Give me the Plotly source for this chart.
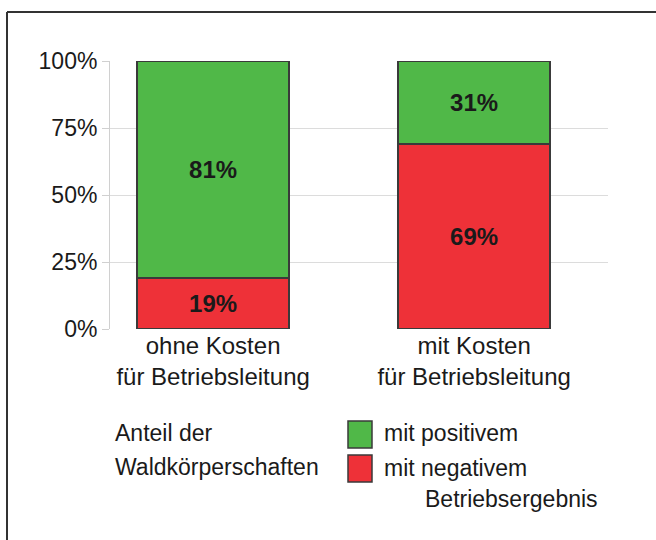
import plotly.graph_objects as go

categories = ["ohne Kosten<br>für Betriebsleitung", "mit Kosten<br>für Betriebsleitung"]
negative = [19, 69]
positive = [81, 31]
series_names = ["mit negativem Betriebsergebnis", "mit positivem Betriebsergebnis"]
tick_vals = [0, 25, 50, 75, 100]
tick_text = ["0%", "25%", "50%", "75%", "100%"]

GREEN = "#50b848"
RED = "#ee3138"
EDGE = "#3a3a3a"
FONT = "Liberation Sans, Arial, Helvetica, sans-serif"
TXT = "#1a1a1a"

W, H = 656, 540
L, R, T, B = 110, 608, 61, 329


def px(x):
    return (x - L) / (R - L)


def py(y):
    return (B - y) / (B - T)


fig = go.Figure()
fig.add_trace(go.Bar(
    x=categories, y=negative, name=series_names[0],
    marker=dict(color=RED, line=dict(color=EDGE, width=1.5)),
    width=0.582, text=[f"{v}%" for v in negative], textposition="inside",
    insidetextanchor="middle", textangle=0,
    textfont=dict(family=FONT, size=24, color=TXT, weight="bold"),
))
fig.add_trace(go.Bar(
    x=categories, y=positive, name=series_names[1],
    marker=dict(color=GREEN, line=dict(color=EDGE, width=1.5)),
    width=0.582, text=[f"{v}%" for v in positive], textposition="inside",
    insidetextanchor="middle", textangle=0,
    textfont=dict(family=FONT, size=24, color=TXT, weight="bold"),
))

fig.update_layout(
    barmode="stack",
    width=W, height=H,
    margin=dict(l=L, r=W - R, t=T, b=H - B),
    paper_bgcolor="white", plot_bgcolor="white",
    showlegend=False,
    uniformtext=dict(mode=False),
    font=dict(family=FONT, color=TXT),
    xaxis=dict(
        type="category", range=[-0.395, 1.513],
        showgrid=False, showline=False, zeroline=False, ticks="",
        tickfont=dict(family=FONT, size=24, color=TXT),
    ),
    yaxis=dict(
        range=[0, 100], tickvals=tick_vals, ticktext=tick_text,
        showgrid=True, gridcolor="#dcdcdc", gridwidth=1,
        showline=True, linecolor="#d0d0d0", linewidth=1,
        ticks="outside", ticklen=7, tickcolor="#d0d0d0",
        zeroline=False,
        tickfont=dict(family=FONT, size=23, color=TXT),
    ),
)

shapes = [
    dict(type="line", xref="paper", yref="paper", x0=px(7), y0=py(12), x1=px(7), y1=py(550),
         line=dict(color="#333333", width=2)),
    dict(type="line", xref="paper", yref="paper", x0=px(7), y0=py(12), x1=px(670), y1=py(12),
         line=dict(color="#333333", width=2)),
    dict(type="rect", xref="paper", yref="paper", x0=px(348), y0=py(421), x1=px(372), y1=py(448),
         fillcolor=GREEN, line=dict(color=EDGE, width=1.5)),
    dict(type="rect", xref="paper", yref="paper", x0=px(348), y0=py(455), x1=px(372), y1=py(482),
         fillcolor=RED, line=dict(color=EDGE, width=1.5)),
]
for s in shapes:
    fig.add_shape(**s)

ann = [
    ("Anteil der", 113, 433),
    ("Waldkörperschaften", 113, 467),
    ("mit positivem", 382, 433),
    ("mit negativem", 382, 468),
    ("Betriebsergebnis", 423, 499),
]
for text, x, y in ann:
    fig.add_annotation(text=text, xref="paper", yref="paper", x=px(x), y=py(y),
                       xanchor="left", yanchor="middle", showarrow=False,
                       font=dict(family=FONT, size=23, color=TXT))

fig.write_html("out.html", config={"displayModeBar": False},
               post_script="document.body.style.margin='0';")
